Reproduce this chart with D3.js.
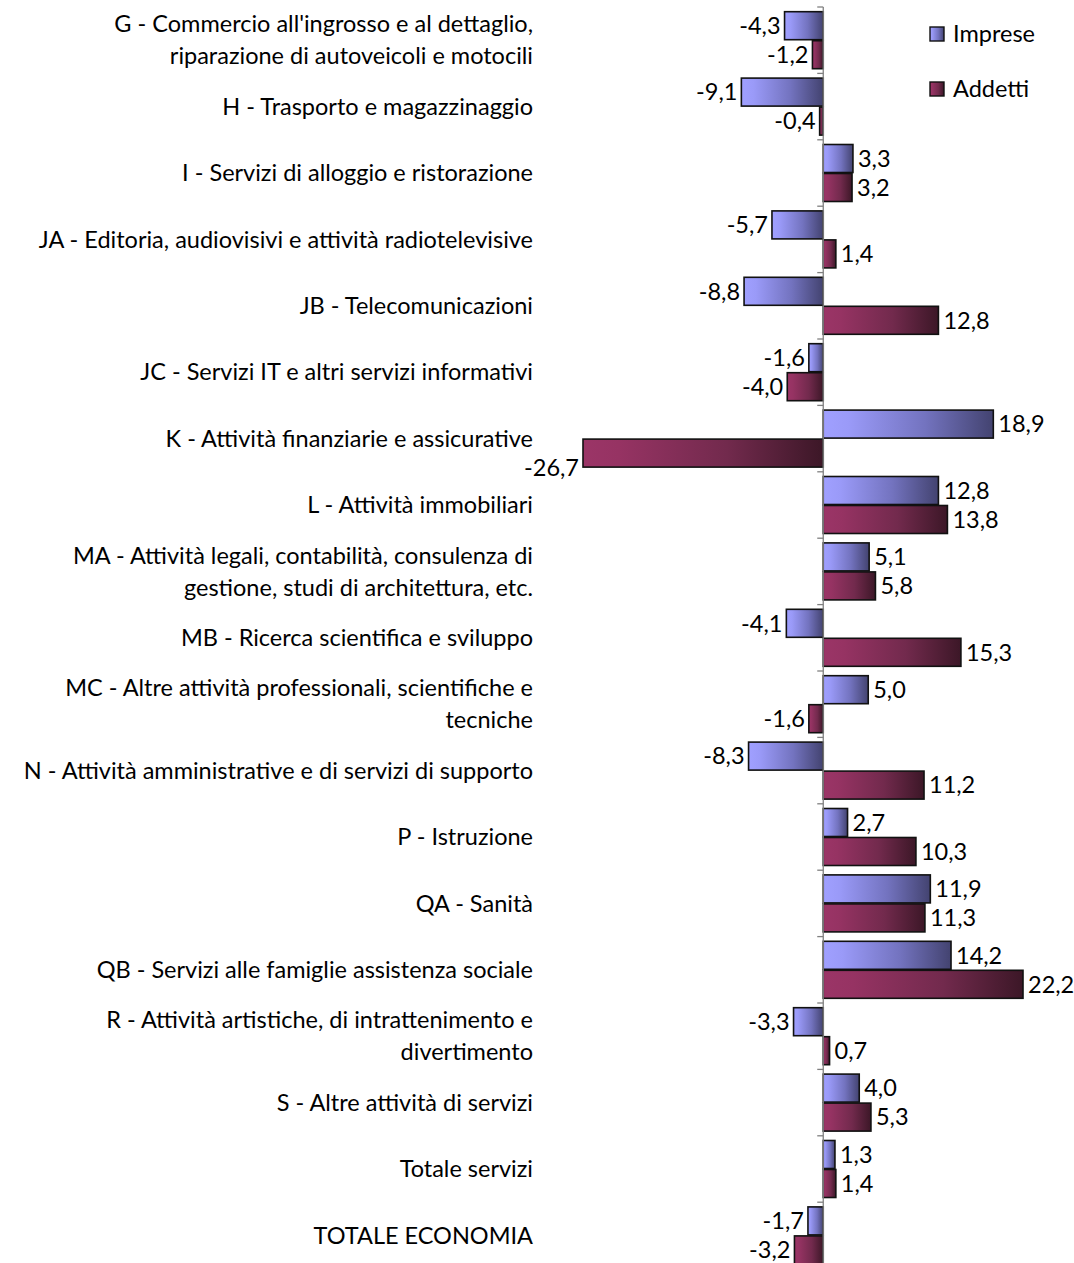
<!DOCTYPE html>
<html><head><meta charset="utf-8">
<script src="https://cdn.jsdelivr.net/npm/d3@7"></script>
<style>body{margin:0;background:#fff}svg{display:block;font-family:Lato,"Open Sans",sans-serif}</style>
</head><body><svg id="c" width="1074" height="1263"></svg>
<script>
const categories = [
  ["G - Commercio all'ingrosso e al dettaglio,","riparazione di autoveicoli e motocili"],
  ["H - Trasporto e magazzinaggio"],
  ["I - Servizi di alloggio e ristorazione"],
  ["JA - Editoria, audiovisivi e attività radiotelevisive"],
  ["JB - Telecomunicazioni"],
  ["JC - Servizi IT e altri servizi informativi"],
  ["K - Attività finanziarie e assicurative"],
  ["L - Attività immobiliari"],
  ["MA - Attività legali, contabilità, consulenza di","gestione, studi di architettura, etc."],
  ["MB - Ricerca scientifica e sviluppo"],
  ["MC - Altre attività professionali, scientifiche e","tecniche"],
  ["N - Attività amministrative e di servizi di supporto"],
  ["P - Istruzione"],
  ["QA - Sanità"],
  ["QB - Servizi alle famiglie assistenza sociale"],
  ["R - Attività artistiche, di intrattenimento e","divertimento"],
  ["S - Altre attività di servizi"],
  ["Totale servizi"],
  ["TOTALE ECONOMIA"]
];
const seriesNames = ["Imprese","Addetti"];
const imprese = [-4.3,-9.1,3.3,-5.7,-8.8,-1.6,18.9,12.8,5.1,-4.1,5.0,-8.3,2.7,11.9,14.2,-3.3,4.0,1.3,-1.7];
const addetti = [-1.2,-0.4,3.2,1.4,12.8,-4.0,-26.7,13.8,5.8,15.3,-1.6,11.2,10.3,11.3,22.2,0.7,5.3,1.4,-3.2];

const FS = 23.5;
const svg = d3.select("#c");
const keys = categories.map((c,i)=>i);
const x = d3.scaleLinear().domain([-26.7, 22.2]).range([583, 1023]);
const step = 66.4;
const y0 = d3.scaleBand().domain(keys).range([7, 7+step*keys.length]).paddingInner(0.1265).paddingOuter(0.06325);
const y1 = d3.scaleBand().domain(seriesNames).range([0, y0.bandwidth()]);

const defs = svg.append("defs");
function grad(id, stops){
  const g = defs.append("linearGradient").attr("id",id).attr("x1","0").attr("x2","1").attr("y1","0").attr("y2","0");
  stops.forEach(s=>g.append("stop").attr("offset",s[0]).attr("stop-color",s[1]));
}
grad("gImprese",[[0,"#a0a0ff"],[0.15,"#9a9af8"],[0.6,"#7373bf"],[1,"#434370"]]);
grad("gAddetti",[[0,"#9b3567"],[0.15,"#963363"],[0.6,"#722a4d"],[1,"#3c1727"]]);
const fills = {Imprese:"url(#gImprese)", Addetti:"url(#gAddetti)"};

const data = keys.map(i=>({i, vals:[{s:"Imprese",v:imprese[i]},{s:"Addetti",v:addetti[i]}]}));
const fmt = v => v.toFixed(1).replace(".",",");

const groups = svg.append("g").selectAll("g").data(data).join("g")
  .attr("transform", d=>`translate(0,${y0(d.i)})`);
groups.selectAll("rect").data(d=>d.vals).join("rect")
  .attr("x", d=>x(Math.min(0,d.v)))
  .attr("width", d=>Math.abs(x(d.v)-x(0)))
  .attr("y", d=>y1(d.s)+0.5)
  .attr("height", y1.bandwidth()-1)
  .attr("fill", d=>fills[d.s])
  .attr("stroke","#111").attr("stroke-width",1.6);
groups.selectAll("text.v").data(d=>d.vals).join("text").attr("class","v")
  .attr("x", d=> d.v<0 ? x(d.v)-4 : x(d.v)+5)
  .attr("y", d=>y1(d.s)+y1.bandwidth()/2 + (x(d.v) < 600 ? 15 : 0))
  .attr("dy","0.35em")
  .attr("text-anchor", d=> d.v<0 ? "end":"start")
  .attr("font-size",FS).attr("fill","#000")
  .text(d=>fmt(d.v));

// axis
const ax = svg.append("g").attr("stroke","#808080").attr("stroke-width",1.3);
ax.append("line").attr("x1",x(0)).attr("x2",x(0)).attr("y1",7).attr("y2",7+step*keys.length);
d3.range(keys.length+1).forEach(k=>{
  const yy = 7+k*step;
  ax.append("line").attr("x1",x(0)-6).attr("x2",x(0)).attr("y1",yy).attr("y2",yy);
});

// category labels
const lab = svg.append("g").attr("font-size",FS).attr("fill","#000").attr("text-anchor","end");
data.forEach(d=>{
  const lines = categories[d.i];
  const cy = y0(d.i)+y0.bandwidth()/2;
  lines.forEach((t,j)=>{
    lab.append("text").attr("x",533).attr("y", cy + (j-(lines.length-1)/2)*32).attr("dy","0.35em").text(t);
  });
});

// legend
const leg = svg.append("g");
seriesNames.forEach((s,i)=>{
  const g = leg.append("g").attr("transform",`translate(930,${27+i*55})`);
  g.append("rect").attr("width",14).attr("height",14).attr("fill",fills[s]).attr("stroke","#111").attr("stroke-width",1.4);
  g.append("text").attr("x",23).attr("y",7).attr("dy","0.35em").attr("font-size",FS).text(s);
});
</script></body></html>
